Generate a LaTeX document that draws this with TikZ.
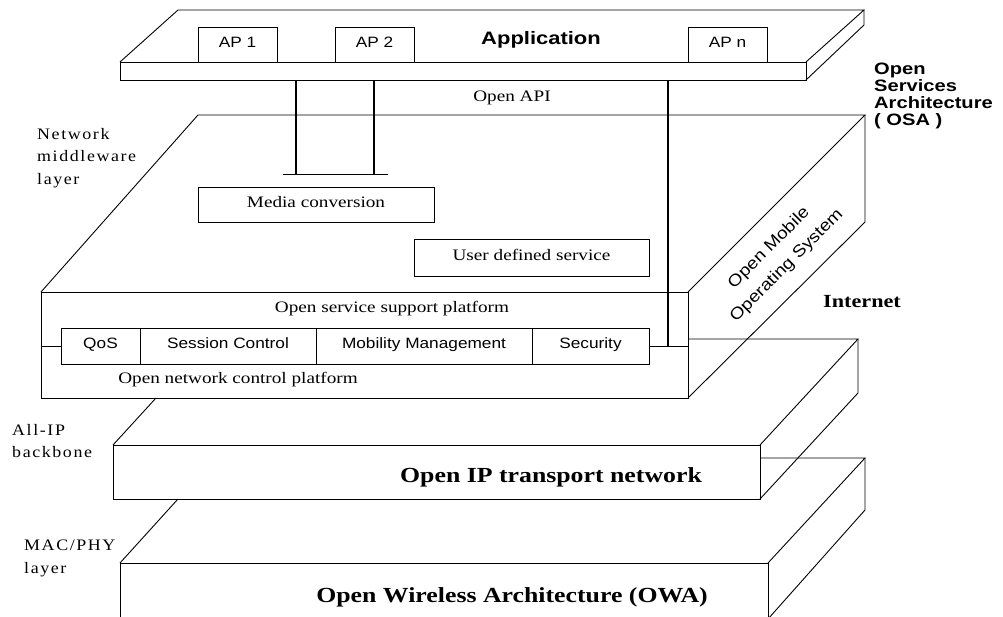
\documentclass[tikz,border=0pt]{standalone}
\usepackage{fontspec}
\setmainfont{Liberation Serif}
\newfontfamily\labserif[FakeStretch=1.2]{Liberation Serif}
\newfontfamily\spacedserif[FakeStretch=1.12,LetterSpace=10]{Liberation Serif}
\newfontfamily\labsans[FakeStretch=1.15]{Liberation Sans}
\newfontfamily\headsans[FakeStretch=1.22]{Liberation Sans}
\begin{document}
\begin{tikzpicture}[x=1pt,y=-1pt,
  edge/.style={line width=0.9pt, line join=miter},
  link/.style={line width=2.8pt},
  cell/.style={draw, line width=0.9pt, inner sep=0pt, anchor=center},
  sertxt/.style={inner sep=0pt, text height=1.55ex, text depth=0.35ex, font=\labserif\fontsize{16}{18}\selectfont},
  santxt/.style={inner sep=0pt, text height=1.55ex, text depth=0.35ex, font=\labsans\fontsize{15}{17}\selectfont},
  sidelabel/.style={inner sep=0pt, anchor=west, align=left, font=\spacedserif\fontsize{16}{22.5}\selectfont},
  bigtitle/.style={inner sep=0pt, font=\labserif\bfseries\fontsize{21.5}{24}\selectfont}
]
\useasboundingbox (0,0) rectangle (1003,617);
\fill[white] (0,0) rectangle (1003,617);

% ---------- Application plate ----------
\coordinate (A1) at (120,62);  \coordinate (A2) at (806,62);
\coordinate (A3) at (806,80);  \coordinate (A4) at (120,80);
\coordinate (A5) at (178,10);  \coordinate (A6) at (864,10);
\coordinate (A7) at (864,25);
\draw[edge] (A1) -- (A2) -- (A3) -- (A4) -- cycle;
\draw[edge] (A1) -- (A5) -- (A6) -- (A2);
\draw[edge] (A6) -- (A7) -- (A3);

\node[cell, minimum width=79pt, minimum height=35pt, santxt] (ap1) at (237.5,44.5) {AP 1};
\node[cell, minimum width=79pt, minimum height=35pt, santxt] (ap2) at (374.5,44.5) {AP 2};
\node[cell, minimum width=79pt, minimum height=35pt, santxt] (apn) at (727.5,44.5) {AP n};
\node[inner sep=0pt, font=\headsans\bfseries\fontsize{18}{20}\selectfont] (app) at (541,40) {Application};

\node[sertxt] (api) at (512,99) {Open API};

% ---------- Network middleware plate ----------
\coordinate (M1) at (41,292);  \coordinate (M2) at (688,292);
\coordinate (M3) at (688,398); \coordinate (M4) at (41,398);
\coordinate (M5) at (198,115); \coordinate (M6) at (865,115);
\coordinate (M7) at (865,222);
\draw[edge] (M1) -- (M2) -- (M3) -- (M4) -- cycle;
\draw[edge] (M1) -- (M5) -- (M6) -- (M2);
\draw[edge] (M6) -- (M7) -- (M3);

\node[cell, minimum width=236pt, minimum height=35pt, sertxt] (media) at (316,204.5) {Media conversion};
\node[cell, minimum width=235pt, minimum height=37pt, sertxt] (user) at (531.5,257.5) {User defined service};

\node[sertxt] (ossp) at (392,310) {Open service support platform};
\node[sertxt] (oncp) at (238,381) {Open network control platform};

\node[cell, minimum width=79pt,  minimum height=36pt, santxt] (qos) at (100.5,346) {QoS};
\node[cell, minimum width=176pt, minimum height=36pt, santxt] (sess) at (228,346) {Session Control};
\node[cell, minimum width=216pt, minimum height=36pt, santxt] (mob) at (424,346) {Mobility Management};
\node[cell, minimum width=117pt, minimum height=36pt, santxt] (sec) at (590.5,346) {Security};

\node[rotate=45, align=center, inner sep=0pt, font=\labsans\fontsize{16.5}{25}\selectfont] (omos) at (778,257) {Open Mobile\\Operating System};

% ---------- Open IP transport plate ----------
\coordinate (I1) at (113,445); \coordinate (I2) at (760,445);
\coordinate (I3) at (760,499); \coordinate (I4) at (113,499);
\coordinate (I6) at (858,339); \coordinate (I7) at (858,393);
\coordinate (Il) at (156,398); \coordinate (Ib) at (688,339);
\draw[edge] (I1) -- (I2) -- (I3) -- (I4) -- cycle;
\draw[edge] (I1) -- (Il);
\draw[edge] (Ib) -- (I6) -- (I2);
\draw[edge] (I6) -- (I7) -- (I3);
\node[bigtitle] (ipt) at (551,477) {Open IP transport network};

% ---------- Open Wireless Architecture plate ----------
\coordinate (O1) at (120,563); \coordinate (O2) at (768,563);
\coordinate (O3) at (768,619); \coordinate (O4) at (120,619);
\coordinate (O6) at (865,458); \coordinate (O7) at (865,510);
\coordinate (Ol) at (178,499); \coordinate (Ob) at (760,458);
\draw[edge] (O1) -- (O2) -- (O3) -- (O4) -- cycle;
\draw[edge] (O1) -- (Ol);
\draw[edge] (Ob) -- (O6) -- (O2);
\draw[edge] (O6) -- (O7) -- (O3);
\node[bigtitle] (owa) at (512,597) {Open Wireless Architecture (OWA)};

% ---------- API connectors ----------
\coordinate (p1) at (296,80);  \coordinate (q1) at (296,174);
\coordinate (p2) at (374,80);  \coordinate (q2) at (374,174);
\coordinate (tl) at (283,174); \coordinate (tr) at (388,174);
\coordinate (p3) at (668,80);  \coordinate (q3) at (668,346);
\coordinate (ml) at (41,346);  \coordinate (mr) at (688,346);
\draw[link] (p1) -- (q1);
\draw[link] (p2) -- (q2);
\draw[edge] (tl) -- (tr);
\draw[link] (p3) -- (q3);
\draw[edge] (ml) -- (qos.west);
\draw[edge] (sec.east) -- (mr);

% ---------- side labels ----------
\node[sidelabel] (nml) at (37,158) {Network\\middleware\\layer};
\node[sidelabel] (aip) at (12,441) {All-IP\\backbone};
\node[sidelabel] (mac) at (24,558.5) {MAC/PHY\\layer};
\node[inner sep=0pt, anchor=west, align=left, font=\headsans\bfseries\fontsize{16.5}{17}\selectfont] (osa) at (874,96) {Open\\Services\\Architecture\\( OSA )};
\node[inner sep=0pt, anchor=west, font=\labserif\bfseries\fontsize{18.5}{20}\selectfont] (inet) at (823,302) {Internet};
\end{tikzpicture}
\end{document}
